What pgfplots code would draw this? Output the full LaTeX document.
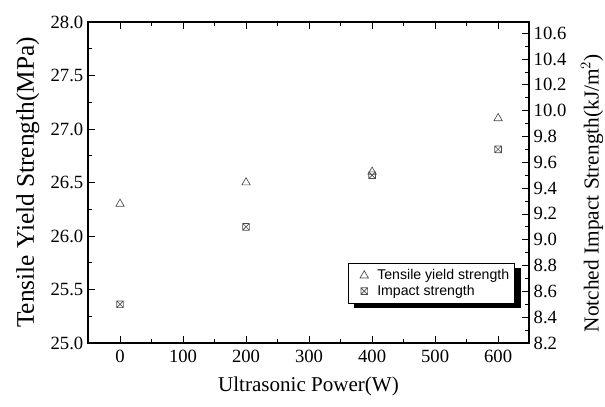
\documentclass[border=0pt]{standalone}
\usepackage{pgfplots}
\pgfplotsset{compat=1.18}
\usepackage{fontspec}
\setmainfont{Liberation Serif}
\setsansfont{Liberation Sans}
\usetikzlibrary{shadows}
\pgfdeclareplotmark{boxx}{%
  \pgfpathrectangle{\pgfpoint{-\pgfplotmarksize}{-\pgfplotmarksize}}{\pgfpoint{2\pgfplotmarksize}{2\pgfplotmarksize}}%
  \pgfpathmoveto{\pgfpoint{-\pgfplotmarksize}{-\pgfplotmarksize}}\pgfpathlineto{\pgfpoint{\pgfplotmarksize}{\pgfplotmarksize}}%
  \pgfpathmoveto{\pgfpoint{-\pgfplotmarksize}{\pgfplotmarksize}}\pgfpathlineto{\pgfpoint{\pgfplotmarksize}{-\pgfplotmarksize}}%
  \pgfusepathqstroke}
\definecolor{mk}{gray}{0.3}
\begin{document}
\begin{tikzpicture}
\path[use as bounding box] (-66pt,-47.25pt) rectangle (387.75pt,257.25pt);
\begin{axis}[
  at={(0,0)}, anchor=south west,
  scale only axis, width=330.75pt, height=240.75pt,
  xmin=-50.8, xmax=649, ymin=25, ymax=28,
  xtick={0,100,...,600}, minor x tick num=1,
  ytick={25,25.5,...,28}, minor y tick num=1,
  xtick pos=both, ytick pos=left, tick align=inside,
  major tick length=5pt, minor tick length=3pt,
  every tick/.style={black, line width=0.6pt},
  axis line style={line width=0.8pt},
  /pgf/number format/assume math mode=true,
  yticklabel style={/pgf/number format/.cd, fixed, fixed zerofill, precision=1},
  xticklabel style={yshift=-2pt},
  ticklabel style={font=\fontsize{14}{16}\selectfont},
  xlabel={Ultrasonic Power(W)},
  ylabel={Tensile Yield Strength(MPa)},
  xlabel shift=3.5pt,
  ylabel shift=1.5pt,
  xlabel style={font=\fontsize{15.8}{18}\selectfont},
  ylabel style={font=\fontsize{19}{22}\selectfont},
]
\addplot[only marks, mark=triangle, mark size=3.6pt, draw=mk, line width=0.5pt] coordinates {
(0,26.3) (200,26.5) (400,26.6) (600,27.1)};
\end{axis}
\begin{axis}[
  at={(0,0)}, anchor=south west,
  scale only axis, width=330.75pt, height=240.75pt,
  xmin=-50.8, xmax=649, ymin=8.2, ymax=10.687,
  axis x line=none, axis y line*=right,
  ytick={8.2,8.4,8.6,8.8,9.0,9.2,9.4,9.6,9.8,10.0,10.2,10.4,10.6}, minor y tick num=1,
  tick align=inside,
  major tick length=5pt, minor tick length=3pt,
  every tick/.style={black, line width=0.6pt},
  axis line style={line width=0.8pt, -},
  /pgf/number format/assume math mode=true,
  yticklabel style={/pgf/number format/.cd, fixed, fixed zerofill, precision=1},
  ticklabel style={font=\fontsize{14}{16}\selectfont},
  clip=false,
  legend image code/.code={\path (-10pt,0pt) (7.5pt,0pt); \draw[#1] plot coordinates {(0pt,0pt)};},
  legend style={at={(0.968,0.249)}, anchor=north east, draw=black, fill=white,
    font=\sffamily\fontsize{10.6}{12}\selectfont, line width=0.5pt,
    drop shadow={fill=black, opacity=1, shadow xshift=4.5pt, shadow yshift=-3.4pt},
    row sep=-1.5pt, inner xsep=2pt, inner ysep=2.5pt},
  legend cell align=left,
]
\addlegendimage{only marks, mark=triangle, mark size=3.6pt, draw=mk, line width=0.5pt}
\addlegendentry{Tensile yield strength}
\addplot[only marks, mark=boxx, mark size=2.5pt, draw=mk, line width=0.5pt] coordinates {
(0,8.5) (200,9.1) (400,9.5) (600,9.7)};
\addlegendentry{Impact strength}
\node[rotate=90, anchor=center, font=\fontsize{16}{19}\selectfont] at (rel axis cs:1.143,0.467) {Notched Impact Strength(kJ/m$^{2}$)};
\end{axis}
\end{tikzpicture}
\end{document}
